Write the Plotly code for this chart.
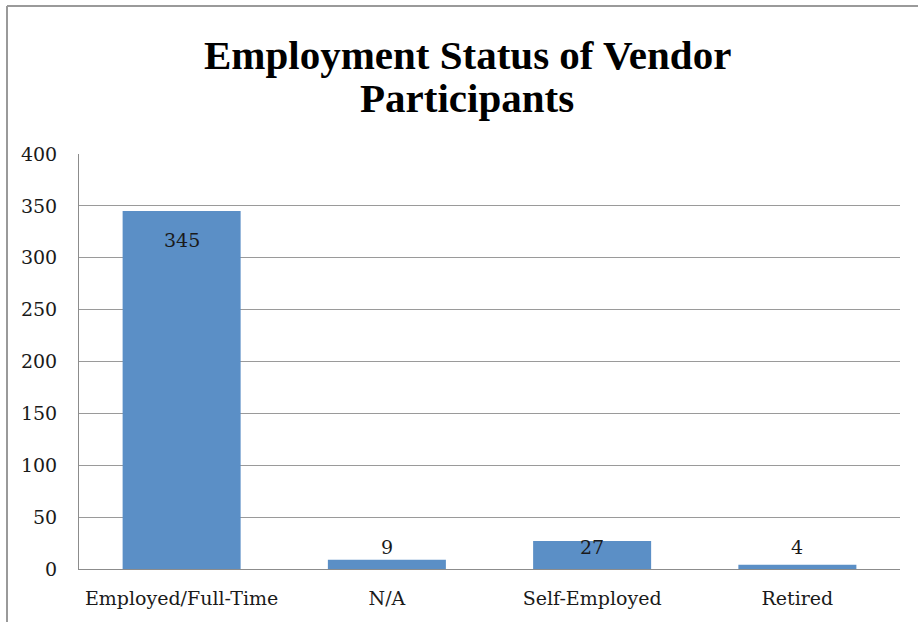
import plotly.graph_objects as go

categories = ["Employed/Full-Time", "N/A", "Self-Employed", "Retired"]
counts = [345, 9, 27, 4]
y_ticks = [0, 50, 100, 150, 200, 250, 300, 350, 400]
title_lines = ["Employment Status of Vendor", "Participants"]

W, H = 918, 622
ML, MR, MT, MB = 79, 18, 154, 53
pw = W - ML - MR
ph = H - MT - MB

fig = go.Figure()
fig.add_trace(go.Bar(
    x=categories, y=counts,
    marker=dict(color="#5b8fc6", line=dict(width=0)),
    width=0.575,
    hoverinfo="x+y",
))

serif = "DejaVu Serif"
# data labels: the big value inside the bar top, the small ones just above the baseline
for c, v in zip(categories, counts):
    if v > 100:
        fig.add_annotation(x=c, y=v, text=str(v), showarrow=False, yshift=-29,
                           font=dict(family=serif, size=19, color="#1a1a1a"))
    else:
        fig.add_annotation(x=c, y=0, text=str(v), showarrow=False, yshift=22,
                           font=dict(family=serif, size=19, color="#1a1a1a"))

# two-line title
for i, line in enumerate(title_lines):
    ypix = 55 + 43 * i
    fig.add_annotation(xref="paper", yref="paper",
                       x=(467 - ML) / pw, y=(H - MB - ypix) / ph,
                       xanchor="center", yanchor="middle", showarrow=False,
                       text="<b>" + line + "</b>",
                       font=dict(family="Liberation Serif", size=41, color="#000000"))

# outer frame (top and left edges visible)
fig.add_shape(type="line", xref="paper", yref="paper",
              x0=(7 - ML) / pw, x1=(W + 5 - ML) / pw,
              y0=(H - MB - 6) / ph, y1=(H - MB - 6) / ph,
              line=dict(color="#9a9a9a", width=2))
fig.add_shape(type="line", xref="paper", yref="paper",
              x0=(7 - ML) / pw, x1=(7 - ML) / pw,
              y0=(H - MB - 6) / ph, y1=-(MB + 5) / ph,
              line=dict(color="#9a9a9a", width=2))

fig.update_layout(
    width=W, height=H,
    margin=dict(l=ML, r=MR, t=MT, b=MB, pad=0, autoexpand=False),
    paper_bgcolor="white", plot_bgcolor="white",
    showlegend=False,
    bargap=0.425,
    xaxis=dict(
        showgrid=False, showline=True, linecolor="#8c8c8c", linewidth=1,
        ticks="", ticklabelstandoff=12, automargin=False,
        tickfont=dict(family=serif, size=19, color="#1a1a1a"),
    ),
    yaxis=dict(
        range=[0, 400], tickvals=y_ticks, ticktext=[str(t) for t in y_ticks],
        showgrid=True, gridcolor="#9a9a9a", gridwidth=1,
        showline=True, linecolor="#8c8c8c", linewidth=1,
        zeroline=False, ticks="", ticklabelstandoff=17, automargin=False,
        tickfont=dict(family=serif, size=19, color="#1a1a1a"),
    ),
)

fig.write_html("out.html", config={"displayModeBar": False},
               post_script="document.body.style.margin='0';")
